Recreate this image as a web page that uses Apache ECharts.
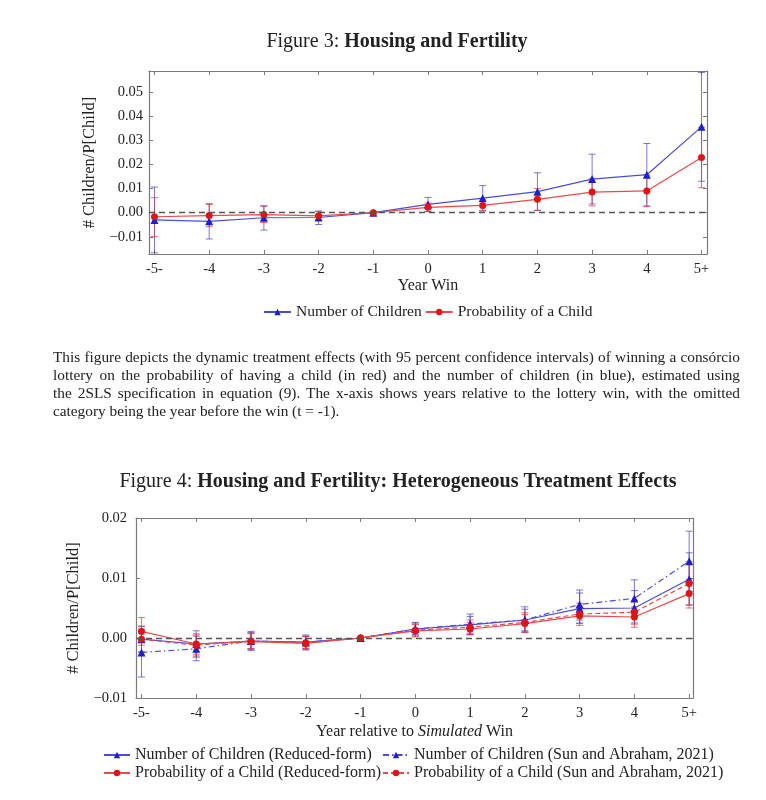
<!DOCTYPE html>
<html>
<head>
<meta charset="utf-8">
<script src="https://cdn.jsdelivr.net/npm/echarts@6/dist/echarts.min.js"></script>
<style>
  html, body { margin:0; padding:0; background:#fff; }
  #chart { position:absolute; left:0; top:0; width:766px; height:800px; }
  #caption { position:absolute; left:53px; top:348px; width:687px; font-family:'Liberation Serif', serif; font-size:15.3px; line-height:18px; color:#222; }
  #caption span { display:block; white-space:nowrap; }
</style>
</head>
<body>
<div id="chart"></div>
<div id="caption">
<span class="j">This figure depicts the dynamic treatment effects (with 95 percent confidence intervals) of winning a consórcio</span>
<span class="j">lottery on the probability of having a child (in red) and the number of children (in blue), estimated using</span>
<span class="j">the 2SLS specification in equation (9). The x-axis shows years relative to the lottery win, with the omitted</span>
<span>category being the year before the win (t = -1).</span>
</div>
<script>
// ---------- data ----------
const years = [-5, -4, -3, -2, -1, 0, 1, 2, 3, 4, 5];
const yearLabels = ['-5-', '-4', '-3', '-2', '-1', '0', '1', '2', '3', '4', '5+'];

// Figure 3
const f3Children     = [-0.0030, -0.0036, -0.0021, -0.0020, 0, 0.0034, 0.0060, 0.0087, 0.0139, 0.0157, 0.0355];
const f3ChildrenLow  = [-0.0166, -0.0109, -0.0072, -0.0049, 0, 0.0005, 0.0008, 0.0009, 0.0036, 0.0028, 0.0130];
const f3ChildrenHigh = [ 0.0106,  0.0037,  0.0029,  0.0007, 0, 0.0063, 0.0112, 0.0165, 0.0242, 0.0286, 0.0580];
const f3Prob         = [-0.0017, -0.0012, -0.0008, -0.0013, 0, 0.0022, 0.0030, 0.0055, 0.0085, 0.0090, 0.0228];
const f3ProbLow      = [-0.0099, -0.0058, -0.0041, -0.0030, 0, 0.0004, 0.0007, 0.0010, 0.0028, 0.0025, 0.0103];
const f3ProbHigh     = [ 0.0062,  0.0034,  0.0025,  0.0004, 0, 0.0040, 0.0053, 0.0100, 0.0142, 0.0155, 0.0353];
const f3YTicks = [-0.01, 0, 0.01, 0.02, 0.03, 0.04, 0.05];

// Figure 4
const f4ChildRF     = [-0.0002, -0.0010, -0.0005, -0.0007, 0, 0.0015, 0.0022, 0.0030, 0.0049, 0.0050, 0.0098];
const f4ChildRFLow  = [-0.0023, -0.0032, -0.0021, -0.0019, 0, 0.0005, 0.0008, 0.0012, 0.0025, 0.0025, 0.0055];
const f4ChildRFHigh = [ 0.0019,  0.0012,  0.0011,  0.0005, 0, 0.0025, 0.0036, 0.0048, 0.0075, 0.0079, 0.0142];
const f4ChildSA     = [-0.0024, -0.0018, -0.0005, -0.0007, 0, 0.0015, 0.0023, 0.0030, 0.0056, 0.0066, 0.0128];
const f4ChildSALow  = [-0.0065, -0.0038, -0.0018, -0.0017, 0, 0.0006, 0.0006, 0.0010, 0.0030, 0.0036, 0.0078];
const f4ChildSAHigh = [ 0.0015,  0.0003,  0.0009,  0.0003, 0, 0.0026, 0.0040, 0.0052, 0.0080, 0.0097, 0.0178];
const f4ProbRF      = [ 0.0011, -0.0010, -0.0006, -0.0009, 0, 0.0012, 0.0015, 0.0024, 0.0037, 0.0035, 0.0074];
const f4ProbRFLow   = [-0.0012, -0.0027, -0.0019, -0.0020, 0, 0.0002, 0.0005, 0.0009, 0.0021, 0.0018, 0.0050];
const f4ProbRFHigh  = [ 0.0034,  0.0007,  0.0008,  0.0002, 0, 0.0022, 0.0026, 0.0039, 0.0053, 0.0052, 0.0098];
const f4ProbSA      = [-0.0002, -0.0012, -0.0005, -0.0008, 0, 0.0013, 0.0018, 0.0026, 0.0040, 0.0043, 0.0091];
const f4ProbSALow   = [-0.0024, -0.0030, -0.0018, -0.0018, 0, 0.0003, 0.0006, 0.0010, 0.0024, 0.0023, 0.0055];
const f4ProbSAHigh  = [ 0.0020,  0.0005,  0.0007,  0.0003, 0, 0.0023, 0.0030, 0.0042, 0.0058, 0.0062, 0.0127];
const f4YTicks = [-0.01, 0, 0.01, 0.02];

// ---------- caption justification (exact line breaks as in the reference) ----------
(function () {
  const W = 687;
  document.querySelectorAll('#caption span.j').forEach(function (sp) {
    sp.style.display = 'inline-block';
    const w = sp.getBoundingClientRect().width;
    sp.style.display = 'block';
    const spaces = (sp.textContent.match(/ /g) || []).length;
    if (spaces > 0) sp.style.wordSpacing = ((W - w) / spaces) + 'px';
  });
})();

// ---------- styles ----------
const FONT = "'Liberation Serif', serif";
const AX = '#7a7a7a';
const BLUE_LINE = '#4c4cdc', BLUE_MARK = '#1e1ecc', BLUE_BAR = 'rgba(70,60,200,0.7)';
const RED_LINE = '#ea4a4a', RED_MARK = '#e01414', RED_BAR = 'rgba(215,50,70,0.7)';

function yFmt(v) {
  const s = Math.abs(v).toFixed(2);
  return (v < -1e-9 ? '\u2212' : '') + s;
}
function xFmt(v) {
  const i = years.indexOf(Math.round(v));
  return i >= 0 ? yearLabels[i] : '';
}

function xAxes(grid, min, max, name, nameGap) {
  const base = {
    gridIndex: grid, type: 'value', min: min, max: max,
    axisLine: { show: true, onZero: false, lineStyle: { color: AX, width: 1.2 } },
    axisTick: { show: true, inside: true, length: 4, customValues: years, lineStyle: { color: AX } },
    splitLine: { show: false }
  };
  return [
    Object.assign({}, base, {
      position: 'bottom',
      axisLabel: { show: true, customValues: years, formatter: xFmt, color: '#222', fontFamily: FONT, fontSize: 14.5, margin: 8 },
      name: name, nameLocation: 'middle', nameGap: nameGap,
      nameTextStyle: { color: '#222', fontFamily: FONT, fontSize: 16,
        rich: { n: { fontFamily: FONT, fontSize: 16, color: '#222' }, i: { fontFamily: FONT, fontSize: 16, fontStyle: 'italic', color: '#222' } } }
    }),
    Object.assign({}, base, { position: 'top', axisLabel: { show: false } })
  ];
}
function yAxes(grid, min, max, ticks, nameGap, labelMargin) {
  const base = {
    gridIndex: grid, type: 'value', min: min, max: max,
    axisLine: { show: true, onZero: false, lineStyle: { color: AX, width: 1.2 } },
    axisTick: { show: true, inside: true, length: 4, customValues: ticks, lineStyle: { color: AX } },
    splitLine: { show: false }
  };
  return [
    Object.assign({}, base, {
      position: 'left',
      axisLabel: { show: true, customValues: ticks, formatter: yFmt, color: '#222', fontFamily: FONT, fontSize: 14.5, margin: labelMargin },
      name: '# Children/P[Child]', nameLocation: 'middle', nameGap: nameGap, nameRotate: 90,
      nameTextStyle: { color: '#222', fontFamily: FONT, fontSize: 16.5 }
    }),
    Object.assign({}, base, { position: 'right', axisLabel: { show: false } })
  ];
}

function errSeries(xi, yi, low, high, color) {
  return {
    type: 'custom', xAxisIndex: xi, yAxisIndex: yi, z: 1, silent: true, clip: true,
    data: years.map((y, i) => [y, low[i], high[i]]),
    encode: { x: 0, y: [1, 2] },
    renderItem: function (params, api) {
      const x = api.value(0), lo = api.value(1), hi = api.value(2);
      const a = api.coord([x, lo]), b = api.coord([x, hi]);
      const hw = 3.5;
      const st = { stroke: color, lineWidth: 1 };
      return { type: 'group', children: [
        { type: 'line', shape: { x1: a[0], y1: a[1], x2: b[0], y2: b[1] }, style: st },
        { type: 'line', shape: { x1: a[0] - hw, y1: a[1], x2: a[0] + hw, y2: a[1] }, style: st },
        { type: 'line', shape: { x1: b[0] - hw, y1: b[1], x2: b[0] + hw, y2: b[1] }, style: st }
      ] };
    }
  };
}
function lineSeries(name, xi, yi, vals, lineColor, markColor, symbol, dash, zeroLine) {
  const s = {
    name: name, type: 'line', xAxisIndex: xi, yAxisIndex: yi, z: 3,
    data: years.map((y, i) => [y, vals[i]]),
    symbol: symbol, symbolSize: symbol === 'triangle' ? 8 : 7, showSymbol: true,
    itemStyle: { color: markColor, borderWidth: 0 },
    lineStyle: { color: lineColor, width: 1.2, type: dash || 'solid' },
    emphasis: { disabled: true }
  };
  if (zeroLine) {
    s.markLine = { silent: true, symbol: 'none', label: { show: false }, animation: false,
      lineStyle: { color: '#555', type: [6, 4], width: 1.3 }, data: [{ yAxis: 0 }] };
  }
  return s;
}

const chart = echarts.init(document.getElementById('chart'), null, { renderer: 'canvas' });
const legendText3 = { color: '#222', fontFamily: FONT, fontSize: 15.5 };
const legendText4 = { color: '#222', fontFamily: FONT, fontSize: 16, lineHeight: 18 };
const titleRich = { r: { fontFamily: FONT, fontSize: 20, fill: '#222' }, b: { fontFamily: FONT, fontSize: 20, fontWeight: 'bold', fill: '#222' } };

chart.setOption({
  animation: false,
  backgroundColor: '#fff',
  graphic: [
    { type: 'text', x: 397, y: 42, style: {
      text: '{r|Figure 3: }{b|Housing and Fertility}', align: 'center', verticalAlign: 'middle', rich: titleRich } },
    { type: 'text', x: 398, y: 482, style: {
      text: '{r|Figure 4: }{b|Housing and Fertility: Heterogeneous Treatment Effects}', align: 'center', verticalAlign: 'middle', rich: titleRich } }
  ],
  grid: [
    { left: 149, top: 71, width: 558, height: 183 },
    { left: 136, top: 518, width: 557, height: 180 }
  ],
  xAxis: [].concat(
    xAxes(0, -5.1, 5.1, 'Year Win', 23),
    xAxes(1, -5.1, 5.07, '{n|Year relative to }{i|Simulated}{n| Win}', 26)
  ),
  yAxis: [].concat(
    yAxes(0, -0.0171, 0.0586, f3YTicks, 47, 6),
    yAxes(1, -0.01, 0.02, f4YTicks, 52, 9)
  ),
  legend: [
    { data: ['Number of Children', 'Probability of a Child'], left: 263, top: 304, padding: 0, itemWidth: 27, itemHeight: 8, itemGap: 3,
      textStyle: legendText3, selectedMode: false },
    { data: ['Number of Children (Reduced-form)', 'Probability of a Child (Reduced-form)'], orient: 'vertical',
      left: 103, top: 746, padding: 0, itemWidth: 26, itemHeight: 8, itemGap: 0, textStyle: legendText4, selectedMode: false },
    { data: ['Number of Children (Sun and Abraham, 2021)', 'Probability of a Child (Sun and Abraham, 2021)'], orient: 'vertical',
      left: 382, top: 746, padding: 0, itemWidth: 26, itemHeight: 8, itemGap: 0, textStyle: legendText4, selectedMode: false }
  ],
  series: [
    errSeries(0, 0, f3ChildrenLow, f3ChildrenHigh, BLUE_BAR),
    errSeries(0, 0, f3ProbLow, f3ProbHigh, RED_BAR),
    lineSeries('Number of Children', 0, 0, f3Children, BLUE_LINE, BLUE_MARK, 'triangle', 'solid', true),
    lineSeries('Probability of a Child', 0, 0, f3Prob, RED_LINE, RED_MARK, 'circle', 'solid', false),

    errSeries(2, 2, f4ChildRFLow, f4ChildRFHigh, BLUE_BAR),
    errSeries(2, 2, f4ChildSALow, f4ChildSAHigh, BLUE_BAR),
    errSeries(2, 2, f4ProbRFLow, f4ProbRFHigh, RED_BAR),
    errSeries(2, 2, f4ProbSALow, f4ProbSAHigh, RED_BAR),
    lineSeries('Number of Children (Reduced-form)', 2, 2, f4ChildRF, BLUE_LINE, BLUE_MARK, 'triangle', 'solid', true),
    lineSeries('Number of Children (Sun and Abraham, 2021)', 2, 2, f4ChildSA, BLUE_LINE, BLUE_MARK, 'triangle', [6, 3, 1.5, 3], false),
    lineSeries('Probability of a Child (Reduced-form)', 2, 2, f4ProbRF, RED_LINE, RED_MARK, 'circle', 'solid', false),
    lineSeries('Probability of a Child (Sun and Abraham, 2021)', 2, 2, f4ProbSA, RED_LINE, RED_MARK, 'circle', [5, 3], false)
  ]
});
</script>
</body>
</html>
